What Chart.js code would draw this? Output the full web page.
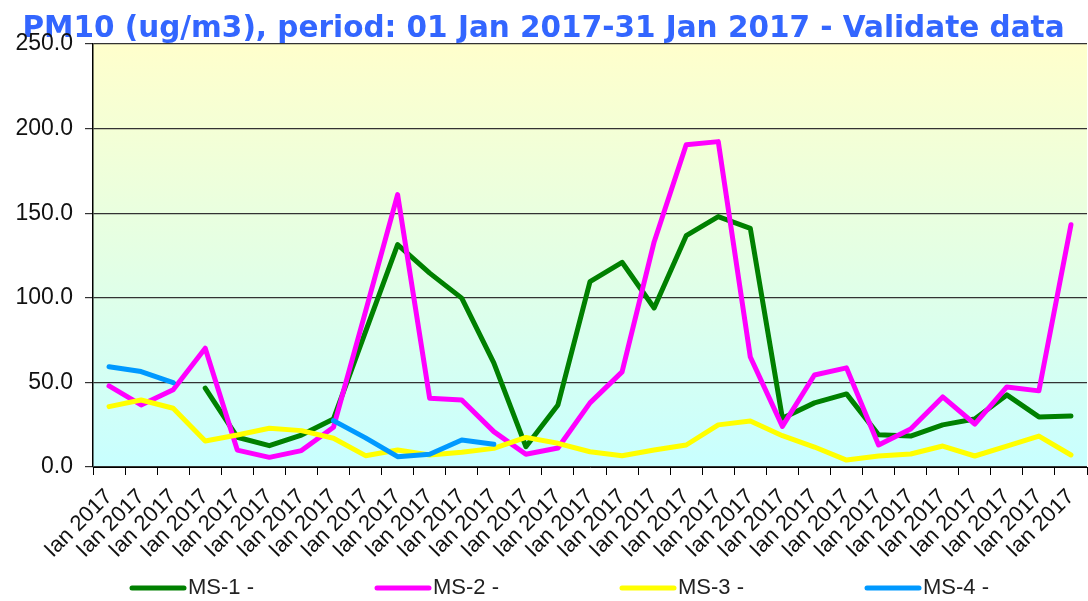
<!DOCTYPE html>
<html>
<head>
<meta charset="utf-8">
<script src="https://cdn.jsdelivr.net/npm/chart.js@4.4.1/dist/chart.umd.min.js"></script>
<style>
  html, body { margin: 0; padding: 0; background: #fff; }
  #wrap { width: 1088px; height: 601px; }
</style>
</head>
<body>
<div id="wrap"><canvas id="pmChart" width="1088" height="601"></canvas></div>
<script>
// ===============================
// Data
// ===============================
const TITLE = "PM10 (ug/m3), period: 01 Jan 2017-31 Jan 2017 - Validate data";
const dayLabels = Array(31).fill("Ian 2017");
const yTicks = [0, 50, 100, 150, 200, 250];

const ms1 = [null, null, null, 46.6, 17.6, 12.6, 18.9, 28.4, 80, 131.4, 114.6, 99.8, 61.5, 12, 36.7, 109.5,
  121, 94, 136.7, 148, 141, 28.8, 37.9, 43.2, 19, 18.3, 24.9, 28.4, 42.6, 29.6, 30.2];
const ms2 = [47.9, 36.7, 45.6, 70.2, 10, 5.7, 9.7, 23.5, 92, 161, 40.6, 39.6, 20.9, 7.5, 11.2, 37.9,
  56.2, 133, 190.5, 192.3, 65, 24, 54.4, 58.6, 13, 22.5, 41.4, 25.4, 47.3, 45, 143.2];
const ms3 = [35.7, 39.6, 34.7, 15.4, 18.9, 22.9, 21.5, 17, 6.7, 10, 7.1, 8.7, 11, 17.5, 14, 9,
  6.6, 10, 13, 24.9, 27.2, 18.5, 11.8, 4.1, 6.5, 7.7, 12.4, 6.5, 12.4, 18.3, 7.1];
const ms4 = [59.3, 56.4, 49.9, null, null, null, null, 27.4, 17.2, 6.1, 7.5, 16, 13.4, null, null, null,
  null, null, null, null, null, null, null, null, null, null, null, null, null, null, null];

const seriesNames = ["MS-1 -", "MS-2 -", "MS-3 -", "MS-4 -"];
const seriesColors = ["#008000", "#ff00ff", "#ffff00", "#0099ff"];

// ===============================
// Plugins
// ===============================
// gradient plot background (yellow on top, cyan at the bottom)
const plotBackground = {
  id: "plotBackground",
  beforeDraw(chart) {
    const { ctx, chartArea: a } = chart;
    const g = ctx.createLinearGradient(0, a.top, 0, a.bottom);
    g.addColorStop(0, "#ffffcc");
    g.addColorStop(0.5, "#e4ffe4");
    g.addColorStop(1, "#c8ffff");
    ctx.save();
    ctx.fillStyle = g;
    ctx.fillRect(a.left, a.top, a.right - a.left, a.bottom - a.top);
    ctx.restore();
  }
};

// legend row with wide fixed spacing like the original
const wideLegend = {
  id: "wideLegend",
  afterDraw(chart) {
    const { ctx } = chart;
    const y = 588;
    ctx.save();
    ctx.font = "22px 'Liberation Sans', Arial, sans-serif";
    ctx.textBaseline = "middle";
    ctx.lineCap = "round";
    chart.data.datasets.forEach((ds, i) => {
      const x = 132 + i * 245;
      ctx.strokeStyle = ds.borderColor;
      ctx.lineWidth = 5;
      ctx.beginPath();
      ctx.moveTo(x, y);
      ctx.lineTo(x + 52, y);
      ctx.stroke();
      ctx.fillStyle = "#222";
      ctx.fillText(ds.label, x + 56, y);
    });
    ctx.restore();
  }
};

// ===============================
// Chart
// ===============================
const datasets = [ms1, ms2, ms3, ms4].map((vals, i) => ({
  label: seriesNames[i],
  data: vals,
  borderColor: seriesColors[i],
  backgroundColor: seriesColors[i],
  borderWidth: 5,
  borderJoinStyle: "round",
  borderCapStyle: "round",
  pointRadius: 0,
  tension: 0,
  spanGaps: false,
  order: 4 - i
}));

new Chart(document.getElementById("pmChart"), {
  type: "line",
  data: { labels: dayLabels, datasets },
  options: {
    responsive: false,
    animation: false,
    layout: { padding: { left: 0, right: 1, top: 0, bottom: 34 } },
    plugins: {
      legend: { display: false },
      tooltip: { enabled: false },
      title: {
        display: true,
        text: TITLE,
        color: "#3366ff",
        font: { family: "'DejaVu Sans', sans-serif", size: 29.5, weight: "bold", lineHeight: 1 },
        padding: { top: 14.5, bottom: 0 }
      }
    },
    scales: {
      x: {
        offset: true,
        grid: { drawOnChartArea: false, offset: true, tickLength: 8, color: "#000" },
        border: { color: "#000", width: 1 },
        ticks: {
          color: "#111",
          font: { family: "'Liberation Sans', Arial, sans-serif", size: 22 },
          minRotation: 45,
          maxRotation: 45,
          autoSkip: false,
          padding: 9
        },
        afterFit(scale) {
          scale.height = 100;
          // keep the plot running to the right edge
          scale.paddingLeft = 0;
          scale.paddingRight = 0;
        }
      },
      y: {
        min: 0,
        max: 250,
        afterBuildTicks(scale) { scale.ticks = yTicks.map(v => ({ value: v })); },
        grid: { color: "#333", lineWidth: 1.2, tickLength: 8 },
        border: { color: "#000", width: 1.5 },
        ticks: {
          color: "#111",
          font: { family: "'Liberation Sans', Arial, sans-serif", size: 23 },
          padding: 12,
          callback: v => v.toFixed(1)
        },
        afterFit(scale) {
          scale.width = 93;
          scale.paddingTop = 0;
          scale.paddingBottom = 0;
        }
      }
    }
  },
  plugins: [plotBackground, wideLegend]
});
</script>
</body>
</html>
